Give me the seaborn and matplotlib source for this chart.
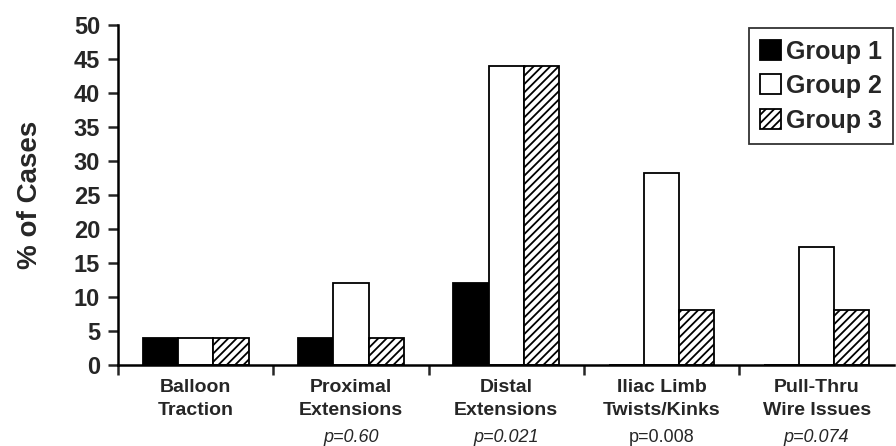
import pandas as pd
import matplotlib.pyplot as plt
import seaborn as sns

categories = ["Balloon\nTraction", "Proximal\nExtensions", "Distal\nExtensions",
              "Iliac Limb\nTwists/Kinks", "Pull-Thru\nWire Issues"]
p_values = ["", "p=0.60", "p=0.021", "p=0.008", "p=0.074"]
p_italic = [False, True, True, False, True]
groups = ["Group 1", "Group 2", "Group 3"]
group1 = [4, 4, 12, 0, 0]
group2 = [4, 12, 44, 28.2, 17.4]
group3 = [4, 4, 44, 8, 8]

df = pd.DataFrame({
    "category": categories * 3,
    "group": [g for g in groups for _ in categories],
    "pct": group1 + group2 + group3,
})

sns.set_theme(style="ticks")
plt.rcParams["font.family"] = ["Liberation Sans", "DejaVu Sans"]
plt.rcParams["hatch.linewidth"] = 1.3
narrow = ["Liberation Sans Narrow", "Liberation Sans", "DejaVu Sans"]

fig = plt.figure(figsize=(8.96, 4.46), dpi=100)
ax = fig.add_axes([0.132, 0.182, 0.866, 0.762])

sns.barplot(data=df, x="category", y="pct", hue="group", order=categories,
            hue_order=groups, palette=["black", "white", "white"],
            edgecolor="black", linewidth=1.3, width=0.68, errorbar=None,
            ax=ax, legend=False)

hatches = ["", "", "////"]
for cont, h in zip(ax.containers, hatches):
    for p in cont.patches:
        p.set_hatch(h)

ax.set_ylim(0, 50)
ax.set_xlim(-0.5, 4.5)
ax.set_yticks(range(0, 51, 5))
ax.tick_params(axis="y", labelsize=17, width=1.8, length=7, direction="out", pad=6)
for t in ax.get_yticklabels():
    t.set_fontweight("bold")
ax.set_ylabel("% of Cases", fontsize=20, fontweight="bold", labelpad=22)
ax.set_xlabel("")

ax.set_xticks(range(len(categories)))
ax.set_xticklabels(categories, fontsize=14, fontweight="bold", linespacing=1.45,
                   family=narrow)
ax.tick_params(axis="x", which="major", length=0, pad=10)
ax.set_xticks([-0.5, 0.5, 1.5, 2.5, 3.5], minor=True)
ax.tick_params(axis="x", which="minor", length=7, width=1.8, direction="out")

for i, (pv, it) in enumerate(zip(p_values, p_italic)):
    if pv:
        ax.text(i, -10.7, pv, ha="center", va="center", fontsize=13,
                family=narrow, style="italic" if it else "normal")

for s in ["top", "right"]:
    ax.spines[s].set_visible(False)
for s in ["left", "bottom"]:
    ax.spines[s].set_linewidth(1.8)
    ax.spines[s].set_color("black")

handles = [c.patches[0] for c in ax.containers]
leg = ax.legend(handles, groups, loc="upper right", bbox_to_anchor=(0.999, 0.99),
                prop={"weight": "bold", "size": 18}, frameon=True, fancybox=False,
                edgecolor="black", handlelength=0.85, handleheight=0.85,
                handletextpad=0.2, borderpad=0.45, labelspacing=0.42,
                borderaxespad=0.0)
leg.get_frame().set_linewidth(1.3)

plt.savefig("out.png", dpi=100)
